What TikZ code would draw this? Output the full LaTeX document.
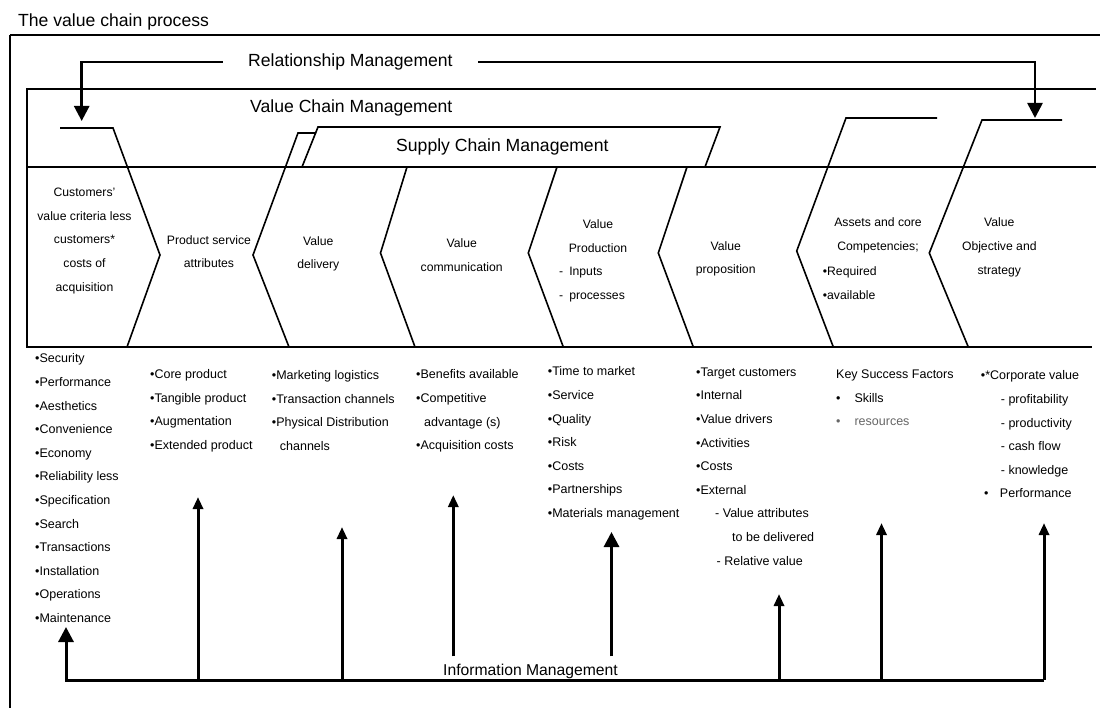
\documentclass[tikz,border=0pt]{standalone}
\usepackage{fontspec}
\setmainfont{Liberation Sans}
\usetikzlibrary{arrows.meta}
\begin{document}
\begin{tikzpicture}[x=1pt,y=-1pt,
  box/.style={line width=1.6pt, line join=miter},
  cell/.style={font=\fontsize{12.2}{23.6}\selectfont, inner sep=0pt, align=center},
  lst/.style={font=\fontsize{12.5}{23.6}\selectfont, inner sep=0pt, align=left, anchor=west},
  big/.style={font=\fontsize{17.6}{20}\selectfont, inner sep=0pt, anchor=base west},
  rel/.style={line width=2.6pt, -{Triangle[width=15pt,length=15pt]}},
  bigarr/.style={line width=3pt, line join=miter, -{Triangle[width=15pt,length=15pt]}},
  smallarr/.style={line width=3pt, -{Triangle[width=10pt,length=12pt]}},
  bus/.style={line width=2.6pt}]
\useasboundingbox (0,0) rectangle (1100,708);
\fill[white] (0,0) rectangle (1100,708);

% outer frame
\draw[line width=1.6pt] (10,35) -- (1100,35);
\draw[line width=2.4pt] (10,35) -- (10,708);

% value chain management box
\draw[box] (1096,89) -- (27,89) -- (27,347) -- (1092,347);
\draw[box] (27,167) -- (1096,167);

% chevrons
\draw[box] (60,128) -- (113,128) -- (160,255) -- (127,347);
\draw[box] (316,133) -- (298,133) -- (253,255) -- (289,347);
\draw[box] (302,167) -- (318,127) -- (720,127) -- (705,167);
\draw[box] (407,167) -- (380.5,253) -- (415,347);
\draw[box] (557,167) -- (528.3,253) -- (563.3,347);
\draw[box] (687,167) -- (658.3,253) -- (693.3,347);
\draw[box] (937,118) -- (846,118) -- (796.7,251) -- (833.3,347);
\draw[box] (1062,120) -- (982,120) -- (929.3,253) -- (968.3,347);

% headings
\node[big] (title) at (18,27) {The value chain process};
\node[big, inner xsep=25.5pt] (rm) at (222.5,66.5) {Relationship Management};
\node[big] (vcm) at (250,112.5) {Value Chain Management};
\node[big] (scm) at (396,152) {Supply Chain Management};
\node[font=\fontsize{15.7}{18}\selectfont, inner xsep=0pt, inner ysep=7pt, anchor=base west] (im) at (443,675) {Information Management};

% cell texts
\node[cell] (c1) at (84.5,241) {Customers'\\value criteria less\\customers*\\costs of\\acquisition};
\node[cell] (c2) at (209,251.7) {Product service\\attributes};
\node[cell] (c3) at (318.3,253.8) {Value\\delivery};
\node[cell] (c4) at (461.7,255.3) {Value\\communication};
\node[cell] (c5) at (598,236.2) {Value\\Production};
\node[cell, align=left, anchor=west] (c5b) at (559,284.3) {-\hspace{6pt}Inputs\\-\hspace{6pt}processes};
\node[cell] (c6) at (725.7,258.7) {Value\\proposition};
\node[cell] (c7) at (878,235.3) {Assets and core\\Competencies;};
\node[cell, align=left, anchor=west] (c7b) at (822.7,283) {•Required\\•available};
\node[cell] (c8) at (999.3,247.3) {Value\\Objective and\\strategy};

% lists
\node[lst] (l1) at (35,488.3) {•Security\\•Performance\\•Aesthetics\\•Convenience\\•Economy\\•Reliability less\\•Specification\\•Search\\•Transactions\\•Installation\\•Operations\\•Maintenance};
\node[lst] (l2) at (150,410.8) {•Core product\\•Tangible product\\•Augmentation\\•Extended product};
\node[lst] (l3) at (271.7,410.5) {•Marketing logistics\\•Transaction channels\\•Physical Distribution\\\hspace*{8pt}channels};
\node[lst] (l4) at (416,411) {•Benefits available\\•Competitive\\\hspace*{8pt}advantage (s)\\•Acquisition costs};
\node[lst] (l5) at (547.7,443.5) {•Time to market\\•Service\\•Quality\\•Risk\\•Costs\\•Partnerships\\•Materials management};
\node[lst] (l6) at (696,466.5) {•Target customers\\•Internal\\•Value drivers\\•Activities\\•Costs\\•External\\\hspace*{19pt}- Value attributes\\\hspace*{36pt}to be delivered\\\hspace*{20.5pt}- Relative value};
\node[lst] (l7) at (836,398) {Key Success Factors\\•\hspace{14pt}Skills\\{\color{black!60}•\hspace{14pt}resources}};
\node[lst] (l8) at (980.7,434.5) {•*Corporate value\\\hspace*{20pt}- profitability\\\hspace*{20pt}- productivity\\\hspace*{20pt}- cash flow\\\hspace*{20pt}- knowledge\\\hspace*{3.3pt}•\hspace{11.4pt}Performance};

% relationship management arrows
\coordinate (tL) at (81.7,121);
\coordinate (tR) at (1035,118);
\draw[rel] (rm.west) -| (tL);
\draw[rel] (rm.east) -| (tR);

% information management bus and arrows
\coordinate (b1) at (66,680);
\coordinate (b2) at (198,680);
\coordinate (b3) at (342,680);
\coordinate (b6) at (779,680);
\coordinate (b7) at (881.5,680);
\coordinate (b8) at (1044,680);
\coordinate (t1) at (66,627);
\coordinate (t2) at (198,497);
\coordinate (t3) at (342,527);
\coordinate (t4) at (453.3,495);
\coordinate (t5) at (611.5,532);
\coordinate (t6) at (779,594);
\coordinate (t7) at (881.5,523);
\coordinate (t8) at (1044,523);
\draw[bigarr] (b8) -- (b1) -- (t1);
\draw[smallarr] (b2) -- (t2);
\draw[smallarr] (b3) -- (t3);
\draw[smallarr] (im.north -| t4) -- (t4);
\draw[bigarr] (im.north -| t5) -- (t5);
\draw[smallarr] (b6) -- (t6);
\draw[smallarr] (b7) -- (t7);
\draw[smallarr] (b8) -- (t8);
\end{tikzpicture}
\end{document}
